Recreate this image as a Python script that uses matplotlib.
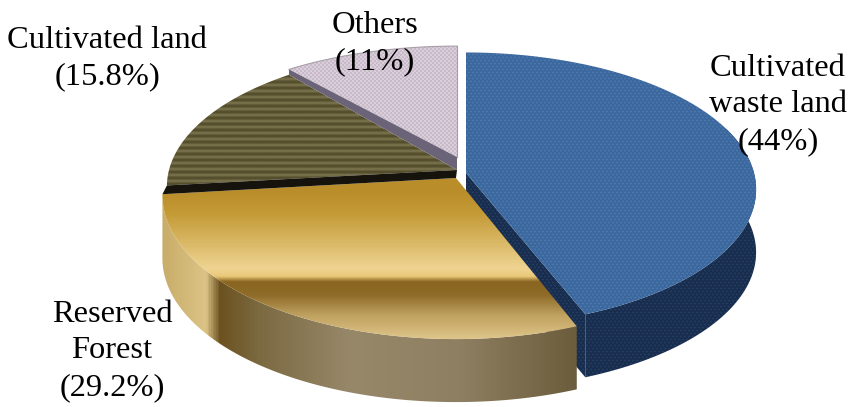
import numpy as np
import matplotlib
matplotlib.use('Agg')
import matplotlib.pyplot as plt
from matplotlib.patches import Polygon
from matplotlib.colors import LinearSegmentedColormap

W, H = 851, 407

names = ['Cultivated\nwaste land', 'Reserved\nForest', 'Cultivated land', 'Others']
shares = [44, 29.2, 15.8, 11]

# 3d pie geometry, in pixels
apex = [(466, 173), (456, 178), (457, 170), (457, 157)]
squash = [1.0, 1.05, 1.0, 0.92]
stretch = [1.0, 1.012, 1.0, 1.0]
rx, ry = 288, 135
tilt = 0.12
depth = 63
label_pos = [(778, 105), (112, 351), (107, 59), (375, 44)]


def rim(a0, a1, i, n=120):
    c = apex[i]
    t = np.radians(np.linspace(a0, a1, n))
    w = 1 + tilt * np.cos(t)
    return c[0] + stretch[i] * rx * np.sin(t) / w, c[1] - squash[i] * ry * np.cos(t) / w


def spoke(a, i):
    x, y = rim(a, a, i, 1)
    return x[0], y[0]


def painted(img, poly, ax):
    # paint an image through a polygon
    pg = Polygon(poly, closed=True, fc='none', ec='none', transform=ax.transData)
    ax.add_patch(pg)
    im = ax.imshow(img, extent=(0, W, H, 0), interpolation='bilinear', aspect='auto')
    im.set_clip_path(pg)
    return pg


def rgb(c):
    return np.array(matplotlib.colors.to_rgb(c))


def ramp(stops, n):
    pos = [s[0] for s in stops]
    cm = LinearSegmentedColormap.from_list('r', [((p - pos[0]) / (pos[-1] - pos[0]), s[1]) for p, s in zip(pos, stops)])
    v = np.clip((np.arange(n) - pos[0]) / (pos[-1] - pos[0]), 0, 1)
    return cm(v)[:, :3]


def soften(img):
    out = img.copy()
    for axis in (0, 1):
        out = (np.roll(out, 1, axis) + 2 * out + np.roll(out, -1, axis)) / 4
    return out


yy, xx = np.mgrid[0:H, 0:W]

# dotted blue surfaces
dots = ((yy % 3 == 0) & ((xx + (yy // 3) * 2) % 4 < 2))
blue_top = np.where(dots[..., None], rgb('#6f98c8'), rgb('#36639a'))
blue_side = np.where(dots[..., None], rgb('#3a5a80'), rgb('#15294a'))

# striped brown surface
stripes = (yy % 6 < 2)
speck = ((xx + yy) % 3 == 0)
brown = np.where(stripes[..., None], rgb('#968f66'), rgb('#534c2a'))
brown = np.where((stripes & speck)[..., None], rgb('#6f6a48'), brown)

# woven pink surface
check = ((xx // 2 + yy // 2) % 2 == 0)
pink = np.where(check[..., None], rgb('#f4ecf2'), rgb('#b09cb2'))

# gold shading
gold_top = ramp([(190, '#b98d2a'), (212, '#c49a36'), (240, '#d8b662'), (268, '#efd492'), (276, '#e9c878'),
                 (281, '#8a6420'), (295, '#8f6c2a'), (315, '#c0a260'), (340, '#e0c78c')], H)[:, None, :]
gold_top = np.repeat(gold_top, W, axis=1)
gold_wall = ramp([(160, '#c8ac68'), (205, '#dcc486'), (219, '#6c5220'), (260, '#7c6a42'),
                  (350, '#97886a'), (460, '#8e7f62'), (578, '#6b5c3c')], W)[None, :, :]
gold_wall = np.repeat(gold_wall, H, axis=0)

fig = plt.figure(figsize=(W / 100, H / 100), dpi=100)
ax = fig.add_axes([0, 0, 1, 1])
ax.set_xlim(0, W)
ax.set_ylim(H, 0)
ax.axis('off')

edges = np.cumsum([0] + shares) / sum(shares) * 360

blue_a, blue_b = edges[0], edges[1]
gold_a, gold_b = edges[1], edges[2]
brown_a, brown_b = edges[2], edges[3]
pink_a, pink_b = edges[3], edges[4]


def top_poly(a0, a1, i):
    x, y = rim(a0, a1, i)
    return np.column_stack([np.r_[apex[i][0], x], np.r_[apex[i][1], y]])


def wall_poly(a0, a1, i):
    x, y = rim(a0, a1, i)
    return np.column_stack([np.r_[x, x[::-1]], np.r_[y, y[::-1] + depth]])


def band(a, i, j):
    # cut face showing between two neighbouring slices
    return [apex[i], spoke(a, i), spoke(a, j), apex[j]]


# others, with the cut face under its edge
ax.add_patch(Polygon(band(pink_a, 3, 2), fc='#6b6478', ec='none'))
painted(soften(pink), top_poly(pink_a, pink_b, 3), ax)
x, y = rim(pink_a, pink_b, 3)
ax.plot(x, y, color='#a89fa8', lw=0.8)
ax.plot([apex[3][0]] * 2, [apex[3][1], y[-1]], color='#a0a0a8', lw=0.8)

# cultivated land with its black cut face
ax.add_patch(Polygon(band(brown_a, 2, 1), fc='#15130c', ec='none'))
painted(soften(soften(brown)), top_poly(brown_a, brown_b, 2), ax)

# blue walls go under the gold slice
x, y = spoke(blue_b, 0)
painted(soften(blue_side), [apex[0], (x, y), (x, y + depth), (apex[0][0], apex[0][1] + depth)], ax)
painted(soften(blue_side), wall_poly(70, blue_b, 0), ax)

# reserved forest
painted(gold_wall, wall_poly(gold_a, gold_b, 1), ax)
painted(soften(gold_top), top_poly(gold_a, gold_b, 1), ax)

# cultivated waste land on top
painted(soften(blue_top), top_poly(blue_a, blue_b, 0), ax)

for name, share, (lx, ly) in zip(names, shares, label_pos):
    ax.text(lx, ly, f'{name}\n({share:g}%)', ha='center', va='center', family='Liberation Serif',
            fontsize=23.4, linespacing=1.33, color='black')

ax.set_xlim(0, W)
ax.set_ylim(H, 0)
fig.savefig('out.png', dpi=100)
